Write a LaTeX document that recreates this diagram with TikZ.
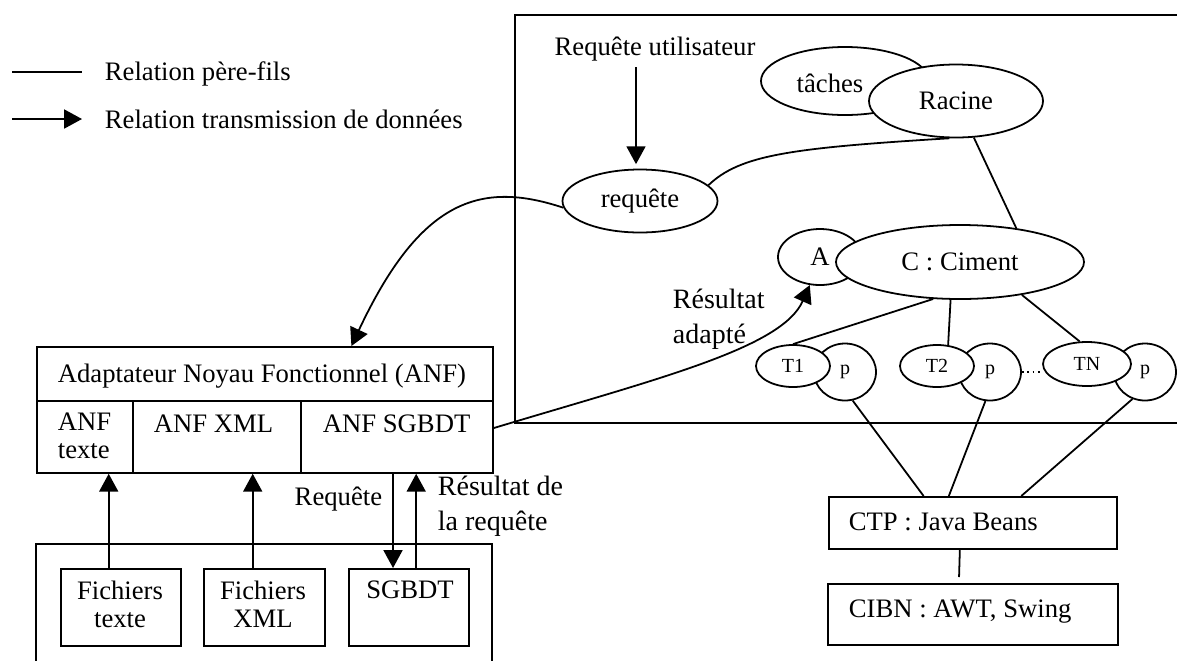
\documentclass[tikz,border=0pt]{standalone}
\usepackage{fontspec}
\setmainfont{Liberation Serif}
\usetikzlibrary{arrows.meta,shapes.geometric,calc}

\begin{document}
\begin{tikzpicture}[x=0.45pt, y=-0.45pt, line width=0.8pt,
  every node/.style={font=\fontsize{12}{12.2}\selectfont, inner sep=0pt},
  tr/.style={-{Triangle[length=8pt,width=8.5pt]}},
  ell/.style={draw, ellipse, fill=white, inner sep=0pt},
  box/.style={draw, rectangle, anchor=north west, inner sep=0pt},
  big/.style={font=\fontsize{12.6}{15.5}\selectfont},
  small/.style={font=\fontsize{9}{9}\selectfont}]
  \useasboundingbox (0,0) rectangle (1177,660);
  % Legend
  \coordinate (l1a) at (12,72);
  \coordinate (l1b) at (82,72);
  \draw (l1a) -- (l1b);
  \node[anchor=base west] (l1t) at (104,80) {Relation père-fils};
  \coordinate (l2a) at (12,119);
  \coordinate (l2b) at (82,119);
  \draw[tr] (l2a) -- (l2b);
  \node[anchor=base west] (l2t) at (104,128) {Relation transmission de données};
  % Right frame (open on the right side)
  \draw (1180,15) -- (515,15) -- (515,423) -- (1180,423);
  % User request
  \node[anchor=base] (ru) at (655,55) {Requête utilisateur};
  \node[ell, minimum width=69.75pt, minimum height=28.35pt] (req) at (640,201) {requête};
  \coordinate (ua) at (636,67);
  \draw[tr, shorten >=2pt] (ua) -- (ua |- req.north);
  % Tasks and root
  \node[ell, minimum width=75.6pt, minimum height=30.6pt,
    label={[xshift=-6.75pt, yshift=-0.9pt]center:tâches}] (taches) at (845,81) {};
  \node[ell, minimum width=78.3pt, minimum height=32.85pt] (racine) at (956,101) {Racine};
  \draw (req.13) .. controls (740,155) and (790,148) .. (racine.260);
  % Ciment component with its adapter A
  \node[ell, minimum width=37.8pt, minimum height=25.2pt] (A) at (820,257) {A};
  \node[ell, minimum width=111.6pt, minimum height=33.3pt] (C) at (960,262) {C : Ciment};
  \draw (racine.296) -- (C.31);
  % Tasks T1, T2, ..., TN with their p
  \node[ell, small, minimum width=27.9pt, minimum height=25.65pt] (p1) at (845,372) {p};
  \node[ell, small, minimum width=33.3pt, minimum height=18.9pt] (T1) at (793,366) {T1};
  \node[ell, small, minimum width=27.9pt, minimum height=25.65pt] (p2) at (990,372) {p};
  \node[ell, small, minimum width=33.3pt, minimum height=18.9pt] (T2) at (937,366) {T2};
  \node[ell, small, minimum width=27.9pt, minimum height=25.65pt] (p3) at (1145,372) {p};
  \node[ell, small, minimum width=39.6pt, minimum height=19.8pt] (TN) at (1087,364) {TN};
  \draw (C.234) -- (T1.north);
  \draw (C.256) -- (T2.62);
  \draw (C.332) -- (TN.108);
  \draw[dash pattern=on 0.8pt off 1.6pt] (p2.east) -- (p2.east -| TN.west);
  % Presentation side
  \node[box, minimum width=129.6pt, minimum height=23.4pt] (ctp) at (828,496) {};
  \node[anchor=base west] (ctpt) at (848,530) {CTP : Java Beans};
  \node[box, minimum width=130.5pt, minimum height=27.45pt] (cibn) at (827,583) {};
  \node[anchor=base west] (cibnt) at (848,617) {CIBN : AWT, Swing};
  \draw (p1.285) -- ($(ctp.north west)!.33!(ctp.north east)$);
  \draw (p2.261) -- ($(ctp.north west)!.417!(ctp.north east)$);
  \draw (p3.245) -- ($(ctp.north west)!.667!(ctp.north east)$);
  \draw[shorten >=2.7pt] ($(ctp.south west)!.455!(ctp.south east)$)
    -- ($(cibn.north west)!.452!(cibn.north east)$);
  % Functional core adapter (ANF)
  \node[box, minimum width=205.2pt, minimum height=24.3pt] (anf) at (36,346) {};
  \node[anchor=base west] (anft) at (57,382) {Adaptateur Noyau Fonctionnel (ANF)};
  \node[box, minimum width=43.2pt, minimum height=32.4pt] (anftxt) at (36,400) {};
  \node[box, minimum width=75.6pt, minimum height=32.4pt] (anfxml) at (132,400) {};
  \node[box, minimum width=86.4pt, minimum height=32.4pt] (anfsgbd) at (300,400) {};
  \node[anchor=base west, align=left] (anftxtt) at (57,458) {ANF\\texte};
  \node[anchor=base west] (anfxmlt) at (153,432) {ANF XML};
  \node[anchor=base west] (anfsgbdt) at (322,432) {ANF SGBDT};
  % Request sent to the adapter, adapted result sent back to A
  \draw[tr] (req.185) .. controls (480,180) and (420,200)
    .. ($(anf.north west)!.689!(anf.north east)$);
  \draw[tr] ($(anfsgbd.north east)!.38!(anfsgbd.south east)$)
    .. controls (660,378) and (782,348) .. (A.250);
  \node[big, anchor=base west, align=left] (resad) at (672,343) {Résultat\\adapté};
  % Data sources
  \draw (36,665) -- (36,544) -- (492,544) -- (492,665);
  \node[box, minimum width=54pt, minimum height=34.65pt] (ftxt) at (60,568) {};
  \node[box, minimum width=54.45pt, minimum height=34.65pt] (fxml) at (203,568) {};
  \node[box, minimum width=54pt, minimum height=34.65pt] (sgbdt) at (348,568) {};
  \node[anchor=base, align=center] (ftxtt) at (120,627) {Fichiers\\texte};
  \node[anchor=base, align=center] (fxmlt) at (263,627) {Fichiers\\XML};
  \node[anchor=base] (sgbdtt) at (410,598) {SGBDT};
  \draw[tr] ($(ftxt.north west)!.4!(ftxt.north east)$) coordinate (fa) -- (fa |- anftxt.south);
  \draw[tr] ($(fxml.north west)!.405!(fxml.north east)$) coordinate (fb) -- (fb |- anfxml.south);
  \draw[tr] ($(anfsgbd.south west)!.48!(anfsgbd.south east)$) coordinate (fc) -- (fc |- sgbdt.north);
  \draw[tr] ($(sgbdt.north west)!.56!(sgbdt.north east)$) coordinate (fd) -- (fd |- anfsgbd.south);
  \node[anchor=base east] (rqlab) at (383,505) {Requête};
  \node[big, anchor=base west, align=left] (resrq) at (437,530) {Résultat de\\la requête};
\end{tikzpicture}
\end{document}
